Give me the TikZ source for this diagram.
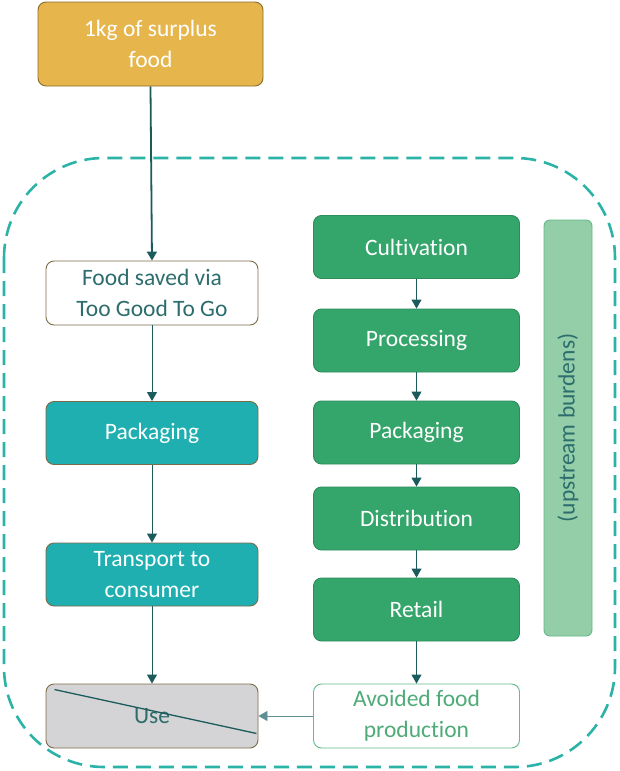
\documentclass[tikz,border=0pt]{standalone}
\usepackage{fontspec}
\setmainfont{Carlito}[Ligatures=NoCommon]
\usetikzlibrary{arrows.meta}
\definecolor{gold}{HTML}{E6B64C}
\definecolor{goldline}{HTML}{8A6A2C}
\definecolor{tealbox}{HTML}{1FAFB1}
\definecolor{brownline}{HTML}{7D6A48}
\definecolor{greenbox}{HTML}{34A56B}
\definecolor{lightgreen}{HTML}{93CEA8}
\definecolor{lightgreenline}{HTML}{64B887}
\definecolor{dashteal}{HTML}{2BB3A8}
\definecolor{arrowc}{HTML}{1C5B5C}
\definecolor{darktxt}{HTML}{2D6D6D}
\definecolor{usegrey}{HTML}{D4D4D6}
\definecolor{avoidline}{HTML}{62BC8C}
\definecolor{avoidtxt}{HTML}{4FAB78}
\definecolor{harrow}{HTML}{5E8F92}
\begin{document}
\begin{tikzpicture}[x=1pt,y=-1pt,
  box/.style={rounded corners=8pt, minimum width=212pt, minimum height=63pt, align=center, font=\fontsize{23.5}{31}\selectfont, inner sep=0pt, line width=0.9pt},
  gbox/.style={box, minimum width=206pt, fill=greenbox, draw=greenbox!85!black, text=white},
  arr/.style={-{Triangle[length=9pt,width=10pt]}, draw=arrowc, line width=0.9pt, color=arrowc}
]
\useasboundingbox (0,0) rectangle (619,771);
% dashed boundary
\draw[dashteal, line width=2.6pt, dash pattern=on 15pt off 8pt, rounded corners=100pt] (4,158) rectangle (615,767);
% nodes
\node[box, fill=gold, draw=goldline, text=white, minimum width=225pt, minimum height=84pt] (food) at (150.5,44) {1kg of surplus\\food};
\node[box, fill=white, draw=brownline, text=darktxt, minimum height=64pt] (saved) at (152,293) {Food saved via\\Too Good To Go};
\node[box, fill=tealbox, draw=brownline, text=white] (pack) at (152,433) {Packaging};
\node[box, fill=tealbox, draw=brownline, text=white] (trans) at (152,574.5) {Transport to\\consumer};
\node[box, fill=usegrey, draw=brownline, text=darktxt, minimum height=64pt] (use) at (152,716) {Use};
\draw[arrowc, line width=1.3pt] ([shift={(9,6)}]use.north west) -- ([shift={(-2,-15)}]use.south east);
\node[gbox] (cult) at (416.5,247) {Cultivation};
\node[gbox] (proc) at (416.5,340.5) {Processing};
\node[gbox] (gpack) at (416.5,432.5) {Packaging};
\node[gbox] (dist) at (416.5,518.5) {Distribution};
\node[gbox] (retail) at (416.5,609.5) {Retail};
\node[box, minimum width=206pt, minimum height=64pt, fill=white, draw=avoidline, text=avoidtxt] (avoid) at (416.5,716) {Avoided food\\production};
\node[rounded corners=6pt, fill=lightgreen, draw=lightgreenline, line width=0.9pt, minimum width=48pt, minimum height=416pt, inner sep=0pt] (up) at (568,428) {};
\node[rotate=90, text=darktxt, font=\fontsize{23.5}{25}\selectfont] (uptxt) at (up.center) {(upstream burdens)};
% arrows
\draw[arr, line width=1.8pt] (food.south) -- (saved.north);
\draw[arr] (saved) -- (pack);
\draw[arr] (pack) -- (trans);
\draw[arr] (trans) -- (use);
\draw[arr] (cult) -- (proc);
\draw[arr] (proc) -- (gpack);
\draw[arr] (gpack) -- (dist);
\draw[arr] (dist) -- (retail);
\draw[arr] (retail) -- (avoid);
\draw[arr, draw=harrow] (avoid) -- (use);
\end{tikzpicture}
\end{document}
